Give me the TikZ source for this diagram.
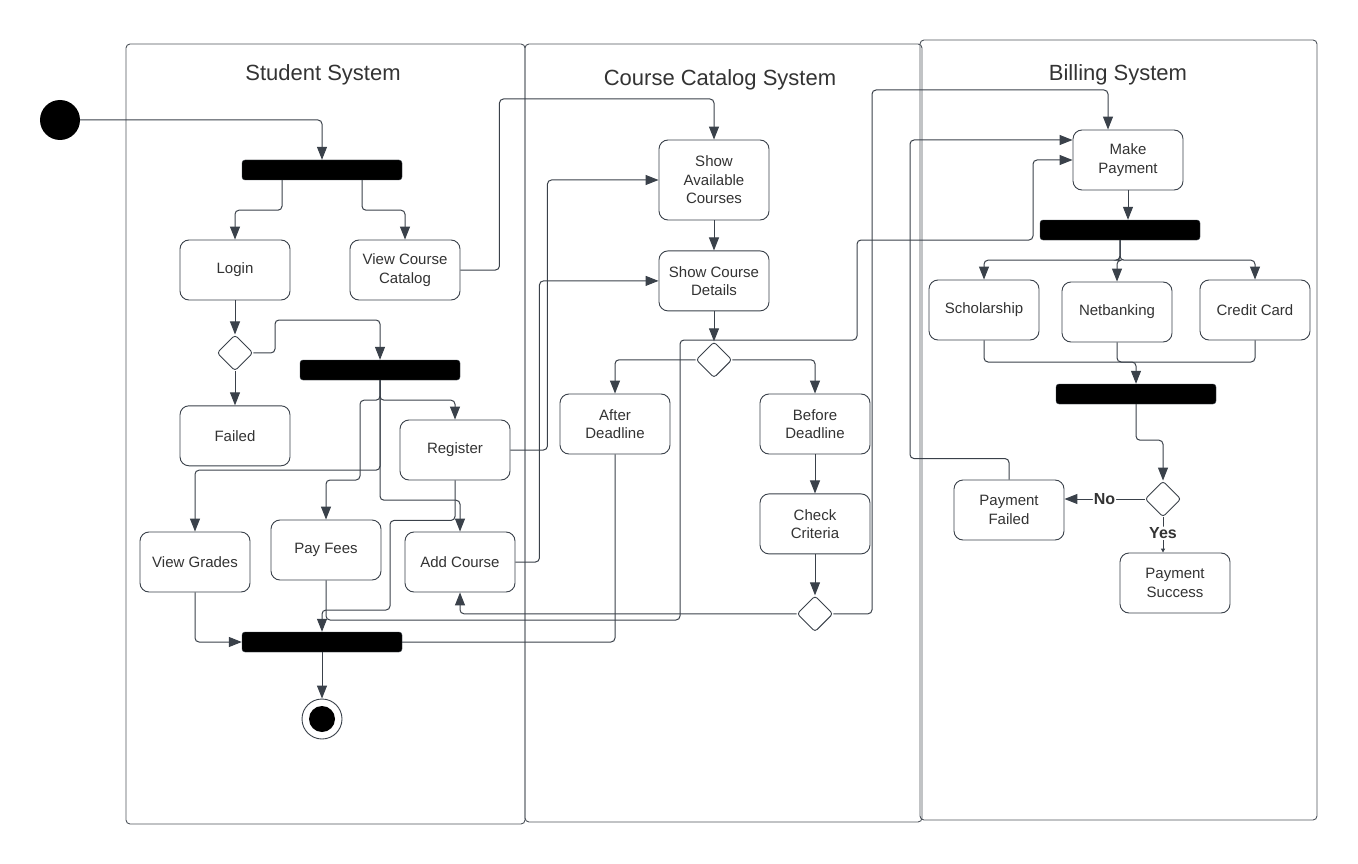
\documentclass[tikz,border=0pt]{standalone}
\usepackage{fontspec}
\setmainfont{Liberation Sans}
\usetikzlibrary{arrows.meta, positioning, shapes.geometric, calc}
\definecolor{ink}{HTML}{3A414A}
\definecolor{txt}{HTML}{333333}
\tikzset{%
  action/.style={draw=ink, fill=white, rounded corners=9pt, minimum width=110pt, minimum height=60pt, inner sep=2pt, align=center, text=txt, line width=0.9pt, font=\fontsize{15}{18.5}\selectfont},
  bar/.style={draw=ink, fill=black, rounded corners=3pt, minimum width=160pt, minimum height=20pt, inner sep=0pt},
  decision/.style={draw=ink, fill=white, diamond, aspect=1, minimum size=36pt, inner sep=0pt, rounded corners=3pt, line width=0.9pt},
  lane/.style={draw=ink!90, rounded corners=4pt, line width=0.9pt, inner sep=0pt},
  title/.style={text=txt, font=\fontsize{22}{26}\selectfont},
  guard/.style={text=txt, fill=white, inner sep=1pt, font=\fontsize{16}{18}\selectfont\bfseries},
  edge/.style={draw=ink, line width=1pt, rounded corners=4pt},
  move/.style={edge, -{Triangle[length=13pt,width=10pt]}},
  nudge/.style={edge, -{Triangle[length=4pt,width=4pt]}}
}
\begin{document}
\begin{tikzpicture}[x=1pt, y=-1pt]
  \useasboundingbox (0,0) rectangle (1358,864);

  \node[lane, minimum width=399pt, minimum height=780pt] (lstudent) at (325.5,434) {};
  \node[lane, minimum width=397pt, minimum height=778pt] (lcatalog) at (723.5,433) {};
  \node[lane, minimum width=397pt, minimum height=780pt] (lbilling) at (1118.5,430) {};
  \node[title] (tstudent) at (323,75) {Student System};
  \node[title] (tcatalog) at (720,80) {Course Catalog System};
  \node[title] (tbilling) at (1118,75) {Billing System};

  \node[circle, fill=black, minimum size=40pt, inner sep=0pt] (start) at (60,120) {};
  \node[bar] (f1) at (322,170) {};
  \node[action] (login) at (235,270) {Login};
  \node[action] (viewcat) at (405,270) {View Course\\Catalog};
  \node[decision] (d1) [below = 34pt of login] {};
  \node[action] (failed) [below = 34pt of d1] {Failed};
  \node[bar] (f2) at (380,370) {};
  \node[action] (register) at (455,450) {Register};
  \node[action] (grades) at (195,562) {View Grades};
  \node[action] (payfees) at (326,550) {Pay Fees};
  \node[action] (addcourse) at (460,562) {Add Course};
  \node[bar] (j1) at (322,642) {};
  \node[circle, draw=ink, fill=white, minimum size=40pt, inner sep=0pt, line width=0.9pt] (stop) at (322,719) {};
  \node[circle, fill=black, minimum size=26pt, inner sep=0pt] (stopdot) at (stop) {};

  \node[action, minimum height=80pt] (avail) at (714,180) {Show\\Available\\Courses};
  \node[action] (details) [below = 30pt of avail] {Show Course\\Details};
  \node[decision] (d2) [below = 30pt of details] {};
  \node[action] (after) at (615,424) {After\\Deadline};
  \node[action] (before) at (815,424) {Before\\Deadline};
  \node[action] (check) [below = 39pt of before] {Check\\Criteria};
  \node[decision] (d3) [below = 41pt of check] {};

  \node[action] (makepay) at (1128,160) {Make\\Payment};
  \node[bar] (f3) at (1120,230) {};
  \node[action] (scholar) at (984,310) {Scholarship};
  \node[action] (netbank) at (1117,312) {Netbanking};
  \node[action] (credit) at (1255,310) {Credit Card};
  \node[bar] (j3) at (1136,394) {};
  \node[decision] (d4) at (1163,499) {};
  \node[action] (payfailed) at (1009,510) {Payment\\Failed};
  \node[action] (paysuccess) at (1175,583) {Payment\\Success};
  \coordinate (m3) at (1136,362);

  \draw[move] (start.east) -| (f1.north);
  \draw[move] ($(f1.south)+(-40,0)$) -- ++(0,30) -| (login.north);
  \draw[move] ($(f1.south)+(40,0)$) -- ++(0,30) -| (viewcat.north);
  \draw[move] (login) -- (d1);
  \draw[move] (d1) -- (failed);
  \draw[move] (d1.east) -| (275,320) -| (f2.north);
  \draw[move] (f2.south) -- ++(0,20) -| (register.north);
  \draw[move] (f2.south) -- ++(0,20) -| (360,480) -| (payfees.north);
  \draw[move] (f2.south) -- ++(0,90) -| (grades.north);
  \draw[move] (f2.south) -- ++(0,120) -| (addcourse.north);
  \draw[move] (register.south) -- ++(0,40) -| (390,610) -| (j1.north);
  \draw[move] (grades.south) |- (j1.west);
  \draw[edge] (after.south) |- (j1.east);
  \draw[move] (j1) -- (stop);

  \draw[move] (viewcat.east) -- ++(39,0) -- ++(0,-171) -| (avail.north);
  \draw[move] (register.east) -- ++(37,0) |- (avail.west);
  \draw[move] (addcourse.east) -- ++(24,0) |- (details.west);
  \draw[move] (avail) -- (details);
  \draw[move] (details) -- (d2);
  \draw[move] (d2.west) -| (after.north);
  \draw[move] (d2.east) -| (before.north);
  \draw[move] (before) -- (check);
  \draw[move] (check) -- (d3);
  \draw[move] (d3.west) -| (addcourse.south);
  \draw[move] (d3.east) -| (872,90) -| ($(makepay.north)+(-20,0)$);
  \draw[move] (payfees.south) |- (680,620) |- (857,340) |- (1033,240) |- (makepay.west);
  \draw[move] (payfailed.north) -- ++(0,-21) -| (910,140) -- ($(makepay.west)+(0,-20)$);

  \draw[move] (makepay.south) -- (makepay.south |- f3.north);
  \draw[move] (f3.south) -- ++(0,20) -| (scholar.north);
  \draw[move] (f3.south) -- ++(0,20) -| (netbank.north);
  \draw[move] (f3.south) -- ++(0,20) -| (credit.north);
  \draw[edge] (scholar.south) |- (m3);
  \draw[edge] (credit.south) |- (m3);
  \draw[move] (netbank.south) |- (m3) -- (j3.north);
  \draw[move] (j3.south) -- ++(0,36) -| (d4.north);
  \draw[move] (d4.west) -- node[guard] {No} (d4.west -| payfailed.east);
  \draw[nudge] (d4.south) -- node[guard, pos=0.45] {Yes} (d4.south |- paysuccess.north);
\end{tikzpicture}
\end{document}
